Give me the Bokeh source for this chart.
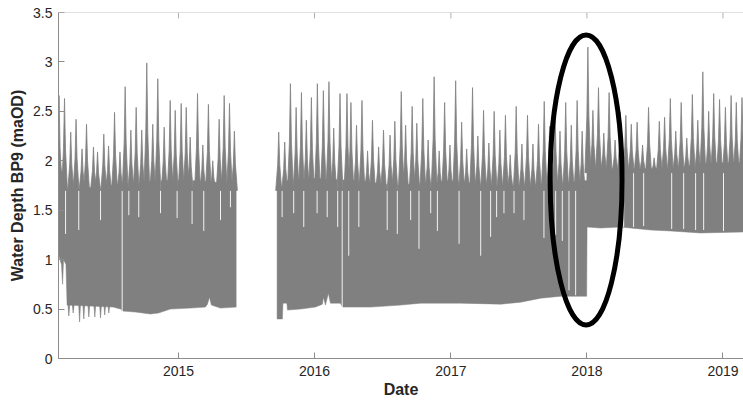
from datetime import datetime
import numpy as np
from bokeh.plotting import figure
from bokeh.models import FixedTicker, Range1d, Span
from bokeh.embed import file_html
from bokeh.resources import INLINE

# ---------------- data (decimal years, water depth in maOD) ----------------
x_start_year = 2014.118
x_end_year = 2019.151
xtick_labels = ["2015", "2016", "2017", "2018", "2019"]
ytick_values = [0, 0.5, 1, 1.5, 2, 2.5, 3, 3.5]
ytick_labels = ["0", "0.5", "1", "1.5", "2", "2.5", "3", "3.5"]

# dense band, segment A (Feb 2014 - Jun 2015)
segA_top_year = [2014.118, 2014.14, 2014.16, 2014.18, 2014.3, 2014.5, 2014.7, 2014.9, 2015.1, 2015.3, 2015.424]
segA_top_val = [2.1, 1.9, 1.85, 1.7, 1.72, 1.75, 1.78, 1.8, 1.8, 1.78, 1.75]
segA_low_year = [2014.118, 2014.140, 2014.148, 2014.155, 2014.173, 2014.181, 2014.52, 2014.574,
                 2014.589, 2014.684, 2014.794, 2014.853, 2014.941, 2015.088, 2015.198, 2015.213,
                 2015.228, 2015.242, 2015.309, 2015.424]
segA_low_val = [1.05, 0.95, 0.75, 1.0, 0.95, 0.54, 0.52, 0.50,
                0.48, 0.47, 0.45, 0.46, 0.50, 0.51, 0.52, 0.55,
                0.62, 0.54, 0.51, 0.52]
# downward dips of the low-water level in 2014
dip_year = [2014.194, 2014.226, 2014.273, 2014.304, 2014.341, 2014.385, 2014.427, 2014.458, 2014.488]
dip_value = [0.43, 0.46, 0.37, 0.40, 0.42, 0.42, 0.41, 0.44, 0.46]

# dense band, segment B (Sep 2015 - Feb 2019)
segB_top_year = [2015.725, 2015.8, 2016.0, 2016.3, 2016.6, 2017.0, 2017.3, 2017.6, 2017.999,
                 2018.001, 2018.3, 2018.6, 2018.9, 2019.152]
segB_top_val = [1.7, 1.8, 1.82, 1.8, 1.75, 1.8, 1.75, 1.75, 1.8, 1.92, 1.92, 1.92, 1.98, 1.98]
segB_low_year = [2015.725, 2015.764, 2015.768, 2015.797, 2015.801, 2015.896, 2016.007, 2016.058,
                 2016.065, 2016.080, 2016.102, 2016.117, 2016.190, 2016.205, 2016.411, 2016.631,
                 2016.778, 2017.072, 2017.366, 2017.513, 2017.660, 2017.807, 2017.998, 2018.001,
                 2018.100, 2018.247, 2018.468, 2018.615, 2018.835, 2019.152]
segB_low_val = [0.40, 0.40, 0.56, 0.56, 0.49, 0.50, 0.52, 0.55,
                0.62, 0.54, 0.66, 0.56, 0.56, 0.52, 0.52, 0.54,
                0.56, 0.56, 0.55, 0.57, 0.61, 0.63, 0.63, 1.33,
                1.32, 1.33, 1.30, 1.29, 1.27, 1.28]

# spring-tide peaks
spike_year = [2014.122, 2014.162, 2014.208, 2014.247, 2014.291, 2014.324, 2014.375, 2014.405,
              2014.451, 2014.486, 2014.530, 2014.570, 2014.608, 2014.650, 2014.689, 2014.730,
              2014.767, 2014.811, 2014.848, 2014.895, 2014.939, 2014.976, 2015.020, 2015.057,
              2015.086, 2015.140, 2015.179, 2015.220, 2015.252, 2015.299, 2015.336, 2015.375,
              2015.411,
              2015.737, 2015.781, 2015.823, 2015.865, 2015.904, 2015.940, 2015.977, 2016.021,
              2016.065, 2016.106, 2016.141, 2016.187, 2016.238, 2016.267, 2016.308, 2016.348,
              2016.389, 2016.425, 2016.470, 2016.506, 2016.554, 2016.589, 2016.636, 2016.668,
              2016.716, 2016.750, 2016.794, 2016.833, 2016.877, 2016.914, 2016.954, 2016.993,
              2017.035, 2017.079, 2017.116, 2017.159, 2017.198, 2017.240, 2017.279, 2017.318,
              2017.360, 2017.401, 2017.436, 2017.480, 2017.522, 2017.563, 2017.603, 2017.644,
              2017.686, 2017.726, 2017.765, 2017.802, 2017.844, 2017.885, 2017.928, 2017.965,
              2018.007, 2018.044, 2018.085, 2018.124, 2018.163, 2018.207, 2018.246, 2018.286,
              2018.326, 2018.369, 2018.409, 2018.453, 2018.494, 2018.532, 2018.571, 2018.613,
              2018.653, 2018.693, 2018.734, 2018.775, 2018.815, 2018.852, 2018.895, 2018.932,
              2018.975, 2019.018, 2019.060, 2019.098, 2019.140]
spike_value = [2.66, 2.63, 2.29, 2.42, 2.12, 2.37, 2.14, 2.09,
               2.27, 2.15, 2.49, 2.09, 2.75, 2.31, 2.54, 2.31,
               2.99, 2.37, 2.83, 2.34, 2.61, 2.51, 2.58, 2.54,
               2.24, 2.68, 2.16, 2.57, 2.00, 2.42, 2.66, 2.58,
               2.30,
               2.29, 2.19, 2.78, 2.54, 2.69, 2.41, 2.64, 2.78,
               2.71, 2.80, 2.33, 2.68, 2.68, 2.59, 2.36, 2.61,
               2.10, 2.41, 2.14, 2.31, 2.26, 2.40, 2.70, 2.36,
               2.55, 2.38, 2.63, 2.21, 2.85, 2.10, 2.59, 2.16,
               2.81, 2.39, 2.12, 2.74, 2.25, 2.51, 2.18, 2.50,
               2.31, 2.46, 2.06, 2.55, 2.17, 2.46, 2.17, 2.37,
               2.60, 2.35, 2.58, 2.30, 2.59, 2.36, 2.61, 2.30,
               3.15, 2.51, 2.74, 2.28, 2.69, 2.21, 2.49, 2.46,
               2.37, 2.39, 2.16, 2.54, 2.03, 2.40, 2.44, 2.63,
               2.30, 2.59, 2.23, 2.67, 2.41, 2.90, 2.50, 2.68,
               2.62, 2.54, 2.66, 2.59, 2.64]

# white gaps (lower end of each gap)
gap_year = [2014.170, 2014.267, 2014.427, 2014.586, 2014.635, 2014.708, 2014.868, 2014.990,
            2015.100, 2015.186, 2015.309, 2015.382,
            2015.762, 2015.847, 2015.921, 2016.019, 2016.093, 2016.170, 2016.203, 2016.251,
            2016.325, 2016.533, 2016.607, 2016.705, 2016.766, 2016.852, 2016.901, 2017.060,
            2017.219, 2017.292, 2017.336, 2017.390, 2017.464, 2017.537, 2017.684, 2017.770,
            2017.819, 2017.868, 2017.917,
            2018.270, 2018.343, 2018.417, 2018.623, 2018.711, 2018.799, 2018.858, 2019.004]
gap_bottom = [1.26, 1.30, 1.40, 0.0, 1.45, 1.43, 1.47, 1.42,
              1.36, 1.29, 1.40, 1.53,
              1.43, 1.47, 1.33, 1.47, 1.43, 1.33, 0.0, 1.04,
              1.33, 1.30, 1.26, 1.40, 1.11, 1.47, 1.29, 1.16,
              1.04, 1.23, 1.43, 1.47, 1.47, 1.40, 1.22, 1.25,
              1.19, 0.69, 0.64,
              1.33, 1.33, 1.34, 1.31, 1.31, 1.30, 1.30, 1.29]

# highlight ellipse
ellipse_center_year = 2017.994
ellipse_center_value = 1.806
ellipse_width_days = 193
ellipse_height_value = 2.934

# ---------------- helpers ----------------
EPOCH = datetime(1970, 1, 1)
DAY = 86400000.0


def ms(dec_year):
    yr = int(np.floor(dec_year))
    a = datetime(yr, 1, 1)
    b = datetime(yr + 1, 1, 1)
    d = a + (b - a) * (dec_year - yr)
    return (d - EPOCH).total_seconds() * 1000.0


GRAY = "#808080"
TXT = "#262626"
AX = "#8c8c8c"
FONT = "Liberation Sans"

p = figure(width=743, height=403, x_axis_type="datetime", output_backend="svg",
           toolbar_location=None, min_border_left=58, min_border_right=0,
           min_border_top=12, min_border_bottom=45,
           x_range=Range1d(ms(x_start_year), ms(x_end_year)), y_range=Range1d(0, 3.5))
p.xgrid.visible = False
p.ygrid.visible = False
p.outline_line_color = None
p.background_fill_color = "white"

# dense band
band_xs, band_ys = [], []
for tt, tv, lt, lv in [(segA_top_year, segA_top_val, segA_low_year, segA_low_val),
                       (segB_top_year, segB_top_val, segB_low_year, segB_low_val)]:
    band_xs.append([ms(t) for t in tt] + [ms(t) for t in lt[::-1]])
    band_ys.append(list(tv) + list(lv[::-1]))
p.patches(band_xs, band_ys, fill_color=GRAY, line_color=GRAY, line_width=0.5)

# low-water dips
d_xs, d_ys = [], []
for t, v in zip(dip_year, dip_value):
    c = ms(t)
    d_xs.append([c - 2.2 * DAY, c, c + 2.2 * DAY])
    d_ys.append([0.54, v, 0.54])
p.patches(d_xs, d_ys, fill_color=GRAY, line_color=GRAY, line_width=0.6)

# white gaps
gx = [ms(t) for t in gap_year]
gtop = [2.1 if t < 2018 else 2.2 for t in gap_year]
p.segment(x0=gx, y0=gap_bottom, x1=gx, y1=gtop, line_color="white", line_width=0.9)

# spikes (concave tidal peaks)
sp_xs, sp_ys = [], []
for t, h in zip(spike_year, spike_value):
    base = 1.7 if t < 2018 else 1.88
    mid = base + 0.45 * (h - base)
    c = ms(t)
    sp_xs.append([c - 8.0 * DAY, c - 2.7 * DAY, c, c + 2.7 * DAY, c + 8.0 * DAY])
    sp_ys.append([base, mid, h, mid, base])
p.patches(sp_xs, sp_ys, fill_color=GRAY, line_color=GRAY, line_width=0.8)

# ellipse
p.ellipse(x=[ms(ellipse_center_year)], y=[ellipse_center_value],
          width=[ellipse_width_days * DAY], height=[ellipse_height_value],
          fill_color=None, line_color="black", line_width=5)

# axes
xticks = [ms(float(s)) for s in xtick_labels]
p.xaxis.ticker = FixedTicker(ticks=xticks)
p.xaxis.major_label_overrides = {x: s for x, s in zip(xticks, xtick_labels)}
p.yaxis.ticker = FixedTicker(ticks=ytick_values)
p.yaxis.major_label_overrides = {v: s for v, s in zip(ytick_values, ytick_labels)}

for ax in (p.xaxis[0], p.yaxis[0]):
    ax.axis_line_color = AX
    ax.major_tick_line_color = AX
    ax.major_tick_in = 6
    ax.major_tick_out = 0
    ax.minor_tick_line_color = None
    ax.major_label_text_font = FONT
    ax.major_label_text_font_size = "14px"
    ax.major_label_text_color = TXT
    ax.axis_label_text_font = FONT
    ax.axis_label_text_font_size = "16px"
    ax.axis_label_text_font_style = "bold"
    ax.axis_label_text_color = TXT

p.xaxis.axis_label = "Date"
p.yaxis.axis_label = "Water Depth BP9 (maOD)"
p.xaxis.major_label_standoff = 7
p.xaxis.axis_label_standoff = 2
p.yaxis.major_label_standoff = 6
p.yaxis.axis_label_standoff = 4

# top border with inward ticks (box style)
p.add_layout(Span(location=3.5, dimension="width", line_color="#c4c4c4", line_width=1))
p.segment(x0=xticks, y0=[3.5] * len(xticks), x1=xticks, y1=[3.44] * len(xticks),
          line_color="#b0b0b0", line_width=1)

open("out.html", "w").write(file_html(p, INLINE))
